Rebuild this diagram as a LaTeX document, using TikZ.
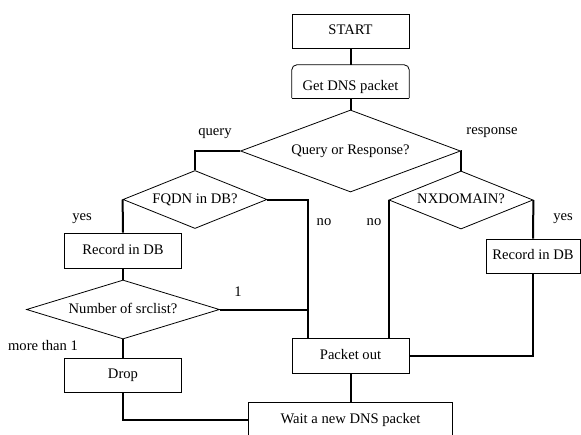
\documentclass[tikz,border=0pt]{standalone}
\usepackage{fontspec}
\setmainfont{Liberation Serif}
\usetikzlibrary{shapes.geometric}
\begin{document}
\begin{tikzpicture}[x=1pt,y=-1pt,
  every node/.style={font=\fontsize{14.6}{17}\selectfont, inner sep=0pt, text height=10pt, text depth=3pt},
  boxnode/.style={draw, line width=0.8pt, rectangle, minimum width=117pt, minimum height=34pt},
  decision/.style={draw, line width=0.8pt, diamond, inner sep=0pt},
  lbl/.style={},
  conn/.style={line width=2pt}]
\useasboundingbox (0,0) rectangle (581,434);
% nodes
\node[boxnode] (start) at (350.5,31) {START};
\node[rectangle, minimum width=117pt, minimum height=33pt, text height=21pt, text depth=3pt] (get) at (350.5,81.5) {Get DNS packet};
\draw[line width=0.8pt, rounded corners=5pt] (get.south west) -- (get.north west) -- (get.north east) -- (get.south east);
\draw[line width=0.8pt] (get.south west) -- (get.south east);
\node[decision, shape aspect=2.68, minimum width=220pt, minimum height=82pt] (qr) at (350.5,151) {Query or Response?};
\node[decision, shape aspect=2.48, minimum width=144pt, minimum height=58pt] (fqdn) at (195,199.5) {FQDN in DB?};
\node[decision, shape aspect=2.48, minimum width=144pt, minimum height=58pt] (nx) at (461,200) {NXDOMAIN?};
\node[boxnode, minimum height=35pt] (rec1) at (123,250.5) {Record in DB};
\node[decision, shape aspect=3.27, minimum width=193pt, minimum height=59pt] (num) at (123,309.5) {Number of srclist?};
\node[boxnode] (drop) at (123,375) {Drop};
\node[boxnode, minimum width=94pt] (rec2) at (533,256) {Record in DB};
\node[boxnode, minimum height=35pt] (po) at (350.5,355.5) {Packet out};
\node[boxnode, minimum width=204pt, minimum height=36pt] (wait) at (350.5,420) {Wait a new DNS packet};
% labels
\node[lbl] (lq) at (215,132) {query};
\node[lbl] (lr) at (492,131) {response};
\node[lbl] (ly1) at (82,217) {yes};
\node[lbl] (ln1) at (324,222) {no};
\node[lbl] (ln2) at (374,222) {no};
\node[lbl] (ly2) at (563,217) {yes};
\node[lbl] (l1) at (238,293) {1};
\node[lbl] (lm) at (43,347) {more than 1};
% junctions
\coordinate (j1) at ([xshift=16pt]po.north west);
% connectors
\draw[conn] (start.south) -- (get.north);
\draw[conn] (get.south) -- (qr.north);
\draw[conn] (qr.west) -| (fqdn.north);
\draw[conn] (qr.east) -| (nx.north);
\draw[conn] (fqdn.west) -- (rec1.north);
\draw[conn] (fqdn.east) -| (j1);
\draw[conn] (num.east) -- (num.east -| j1);
\draw[conn] (rec1.south) -- (num.north);
\draw[conn] (num.south) -- (drop.north);
\draw[conn] (drop.south) |- (wait.west);
\draw[conn] (nx.west) -- (nx.west |- po.north);
\draw[conn] (nx.east) -- (rec2.north);
\draw[conn] (rec2.south) |- (po.east);
\draw[conn] (po.south) -- (wait.north);
\end{tikzpicture}
\end{document}
